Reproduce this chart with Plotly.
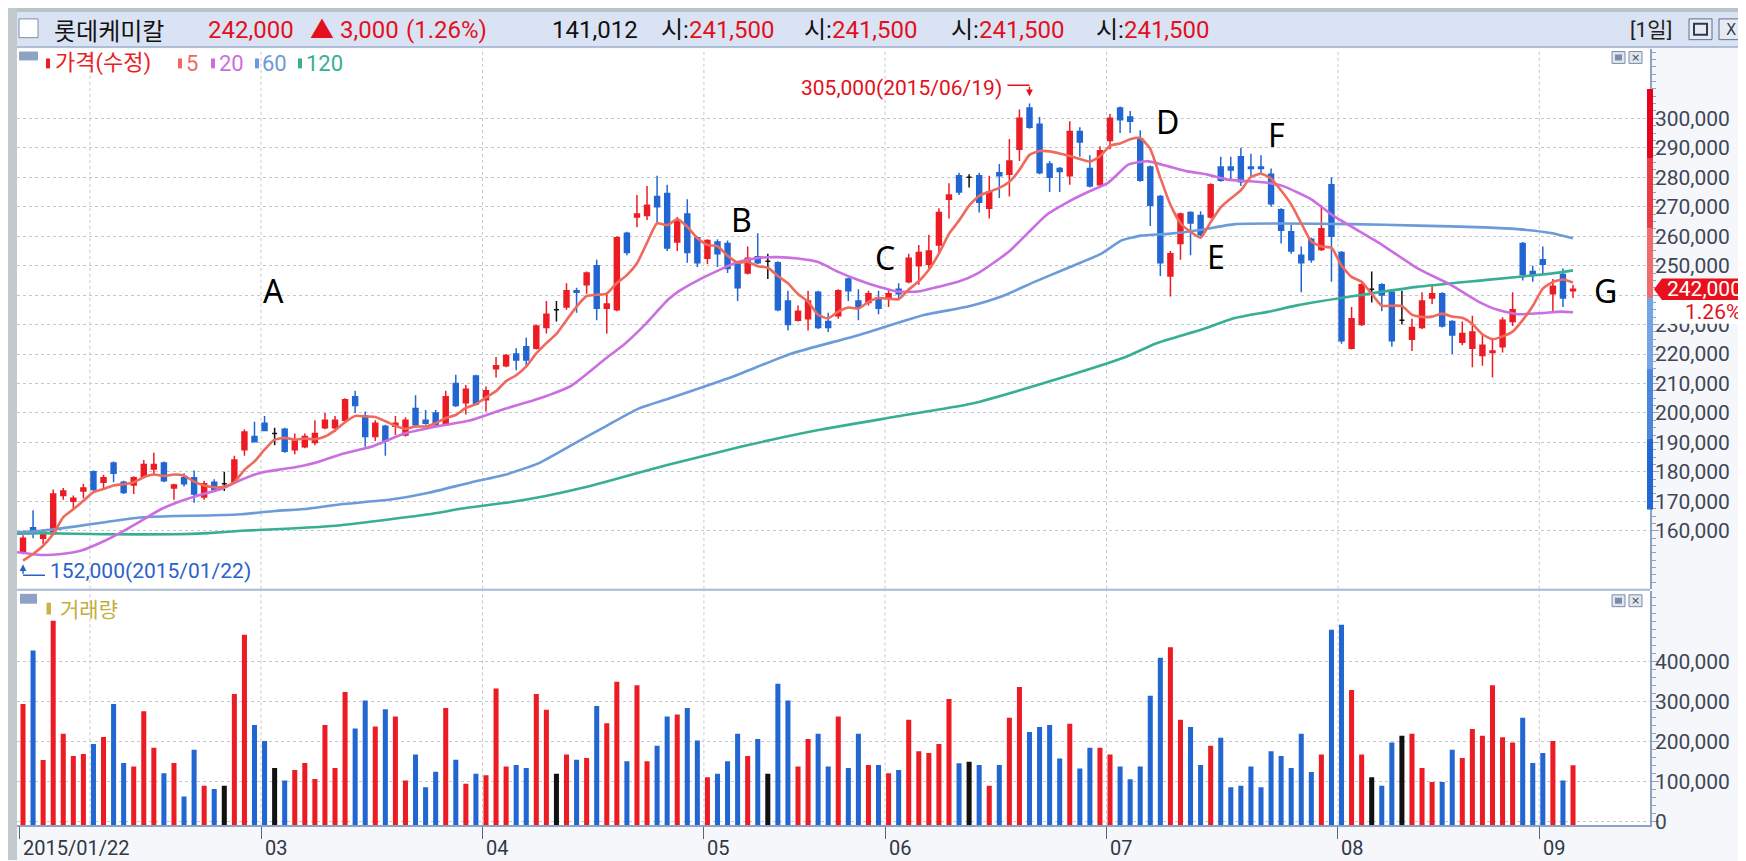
import numpy as np
import pandas as pd
import plotly.graph_objects as go

W, H = 1746, 861

# ---------------- data ----------------
holidays = ["2015-02-18", "2015-02-19", "2015-02-20", "2015-05-01",
            "2015-05-05", "2015-05-25", "2015-08-14"]
dates = [d for d in pd.bdate_range("2015-01-22", "2015-09-04")
         if d.strftime("%Y-%m-%d") not in holidays]

opens = [
    153000, 161000, 157500, 159000, 172000, 170000, 173500, 180000, 176500, 183000,
    176500, 175500, 178500, 181000, 183000, 174500, 178000, 178000, 171500, 176500,
    176000, 176500, 187500, 192000, 196500, 193000, 194500, 187500, 188500, 190000,
    195000, 195000, 197500, 205500, 199000, 192000, 195500, 195500, 192500, 201500,
    197500, 200000, 196000, 210000, 203500, 212500, 204500, 215000, 216000, 220000,
    222500, 222000, 229000, 235000, 236000, 241500, 243500, 250000, 235500, 235000,
    261000, 266500, 267000, 273500, 274500, 258000, 267500, 259500, 252500, 258000,
    257500, 251000, 247500, 253000, 251500, 251000, 238000, 231500, 232000, 241000,
    231000, 233000, 245500, 238000, 237500, 239000, 239000, 242000, 244500, 250000,
    250500, 257000, 272500, 280500, 280000, 280500, 269500, 281500, 281000, 289500,
    303500, 298000, 284500, 283000, 280500, 295500, 283000, 277500, 292500, 303500,
    300500, 293000, 283500, 273500, 246500, 257500, 268000, 267000, 266500, 283500,
    283500, 287000, 283500, 283500, 281000, 269000, 261500, 253500, 259000, 255500,
    277500, 254500, 222000, 230000, 242000, 243500, 241000, 231500, 225000, 229000,
    239000, 240500, 231000, 224000, 222000, 219500, 220500, 222500, 231000, 257500,
    248000, 252000, 240500, 247000, 241500]
highs = [
    158500, 167000, 160500, 174000, 174500, 172000, 176000, 180500, 179000, 183500,
    177000, 178500, 184000, 186500, 183500, 176000, 179500, 180500, 177000, 177500,
    180000, 185500, 194500, 197000, 199000, 195000, 195000, 193000, 193000, 197500,
    200000, 199000, 205000, 207500, 200500, 197500, 196000, 199000, 198500, 206000,
    201000, 201000, 207500, 213000, 209500, 213000, 209000, 219000, 220000, 222000,
    225500, 230000, 238000, 238000, 244000, 242500, 248000, 252000, 241000, 260000,
    261500, 274000, 277000, 280500, 277500, 266500, 272500, 260000, 259000, 259000,
    258500, 251500, 256500, 261000, 254000, 251500, 241500, 236500, 241500, 241500,
    234000, 242000, 246000, 242000, 241500, 241500, 242000, 244000, 254000, 257000,
    260500, 269500, 278000, 281500, 281000, 281500, 280500, 284500, 293000, 303000,
    305000, 300500, 285500, 283500, 299000, 297000, 287500, 290500, 301500, 304000,
    302500, 296000, 284000, 274000, 255000, 268000, 268500, 268500, 278000, 287000,
    287000, 290000, 288000, 287500, 283000, 269500, 264000, 256500, 259500, 270500,
    280000, 255000, 236000, 244000, 248000, 244000, 241500, 241500, 232000, 241000,
    243000, 241000, 231500, 231000, 233000, 226500, 225500, 232500, 241000, 258000,
    250000, 256500, 245500, 249000, 243500]
lows = [
    152000, 157500, 155500, 158500, 170500, 167000, 171000, 173500, 174500, 176500,
    172500, 172500, 178000, 179000, 176500, 170500, 175000, 169500, 170500, 173500,
    173500, 176000, 185500, 190000, 193800, 189000, 186500, 186000, 188000, 189000,
    194500, 193500, 197000, 200000, 188500, 190500, 185500, 192500, 192000, 195500,
    196000, 195500, 196000, 202000, 199500, 202500, 200500, 212000, 215500, 214500,
    215500, 221500, 227000, 231000, 235000, 234000, 240500, 231500, 227000, 234500,
    253500, 263000, 265500, 264500, 255000, 255000, 251000, 249500, 250500, 249500,
    247500, 238000, 247000, 250500, 245500, 234500, 228000, 231000, 228000, 228500,
    227500, 232000, 238000, 231500, 236500, 233500, 236000, 238500, 244000, 243500,
    248500, 254000, 266000, 274000, 276500, 268000, 266000, 273000, 273500, 285500,
    296500, 281000, 275000, 275000, 277500, 287000, 276500, 277000, 289500, 295000,
    295000, 278500, 263500, 246500, 239500, 252000, 253500, 260000, 266000, 278500,
    279000, 277000, 280000, 281000, 270000, 257500, 254000, 241000, 251000, 255000,
    244500, 223500, 221500, 229500, 237500, 234500, 222500, 230000, 221000, 228500,
    237000, 229000, 220000, 223000, 215500, 216000, 212000, 220500, 229500, 245000,
    244500, 247000, 234500, 236000, 239000]
closes = [
    157500, 160000, 159500, 172500, 173500, 171000, 174500, 174000, 178000, 179500,
    173000, 178000, 182500, 182500, 177000, 175500, 176000, 172500, 176000, 174000,
    176000, 184000, 193500, 190200, 194000, 193000, 187000, 190500, 192000, 193000,
    197500, 197500, 204500, 202500, 192000, 196500, 190500, 196500, 197500, 196000,
    196500, 196000, 205500, 202500, 208000, 203000, 207500, 216000, 219500, 218000,
    218000, 229500, 233500, 235000, 241500, 241000, 247500, 235500, 237000, 259500,
    254500, 267500, 270500, 270000, 256000, 265000, 254500, 251000, 258500, 254000,
    249000, 242500, 252500, 251000, 251500, 235000, 230000, 234500, 238000, 229000,
    229000, 241500, 241500, 236000, 240500, 235500, 240500, 240500, 252500, 254500,
    255000, 268000, 274000, 275000, 280000, 271500, 275000, 280500, 285500, 300000,
    297000, 281500, 280000, 282000, 295500, 292000, 277000, 289000, 300000, 299500,
    299000, 279000, 270500, 251000, 254000, 267500, 264500, 260500, 277500, 279000,
    282500, 278500, 283000, 283000, 271000, 262000, 255000, 251000, 252000, 262500,
    260000, 224500, 232000, 243500, 242000, 240000, 224500, 231500, 229000, 238000,
    240500, 229500, 226500, 227000, 227500, 223000, 221000, 231500, 235000, 247000,
    247000, 250500, 243000, 239000, 242000]
volumes = [
    294000, 428000, 154000, 502000, 220000, 164000, 169000, 194000, 212000, 294000,
    147000, 138000, 276000, 185000, 121000, 147000, 63000, 180000, 90000, 82000,
    90000, 319000, 467000, 242000, 202000, 134000, 103000, 129000, 147000, 107000,
    242000, 134000, 324000, 233000, 303000, 238000, 281000, 263000, 103000, 168000,
    86000, 125000, 284000, 155000, 95000, 120000, 116000, 333000, 138000, 142000,
    134000, 319000, 280000, 120000, 168000, 155000, 159000, 289000, 246000, 350000,
    151000, 341000, 151000, 190000, 263000, 268000, 284000, 203000, 111000, 120000,
    151000, 220000, 164000, 207000, 120000, 345000, 303000, 138000, 207000, 220000,
    138000, 263000, 134000, 220000, 142000, 142000, 121000, 129000, 255000, 176000,
    172000, 194000, 307000, 146000, 150000, 142000, 90000, 142000, 260000, 337000,
    224000, 237000, 242000, 158000, 245000, 133000, 185000, 185000, 168000, 138000,
    106000, 138000, 315000, 410000, 436000, 255000, 237000, 142000, 190000, 210000,
    86000, 90000, 138000, 86000, 176000, 164000, 134000, 220000, 124000, 168000,
    480000, 492000, 329000, 168000, 111000, 90000, 198000, 215000, 220000, 134000,
    99000, 99000, 180000, 159000, 232000, 215000, 341000, 211000, 198000, 260000,
    147000, 172000, 202000, 103000, 141012]

# 5-day line: first four points (they use closes before the window)
ma5_head = [149900, 152100, 154900, 158900]
# 20 / 60 / 120 day lines at these positions (trading-day index)
ma20_x = [-0.6, 1.8, 3.8, 5.8, 7.8, 9.7, 11.7, 13.7, 15.7, 17.7, 19.7, 21.7, 23.7, 25.7,
          27.7, 29.7, 31.6, 34.6, 37.9, 41.2, 44.5, 47.9, 51.2, 54.5, 57.8, 59.8, 61.8,
          64.1, 65.1, 67.1, 69.1, 71.0, 73.0, 75.0, 77.0, 79.0, 81.0, 83.0, 85.0, 86.9,
          88.9, 90.9, 92.9, 94.9, 97.9, 99.9, 101.8, 103.8, 105.8, 107.8, 109.8, 110.8,
          111.8, 113.8, 115.7, 117.7, 119.7, 121.7, 123.7, 125.2, 128.0, 130.2, 134.6,
          138.6, 141.9, 144.6, 146.5, 148.5, 150.9, 152.8, 154.0]
ma20_y = [152700, 151800, 152100, 153300, 156100, 159400, 163300, 167300, 170100, 172300,
          174200, 177300, 179800, 180900, 182000, 183800, 186000, 188500, 193000, 195500,
          197500, 201400, 204800, 209300, 218200, 223500, 230000, 238500, 241200, 245100,
          248400, 251200, 252600, 252900, 252400, 251200, 247900, 245100, 242800, 241200,
          241200, 242800, 244500, 247500, 254600, 261300, 267500, 271600, 275000, 278100,
          284300, 285100, 285400, 283700, 282000, 280900, 279200, 278700, 278100, 277000,
          272500, 266900, 258000, 249000, 243400, 237800, 235000, 233500, 233900, 234400,
          234200]
ma60_x = [-0.6, 1.8, 5.1, 8.3, 11.6, 15.1, 18.4, 21.7, 25.0, 28.3, 31.6, 36.5, 40.3, 44.5,
          47.9, 51.2, 54.5, 57.8, 61.1, 64.1, 70.5, 76.3, 83.0, 89.6, 93.9, 97.2, 100.5,
          103.8, 107.1, 109.1, 111.1, 113.8, 117.1, 120.4, 125.2, 131.9, 138.6, 145.2,
          148.5, 151.8, 154.0]
ma60_y = [159500, 160000, 161400, 163000, 164500, 165000, 165200, 165600, 166700, 167500,
          169000, 170600, 172900, 176400, 179000, 182900, 189100, 195300, 201400, 204800,
          212300, 220100, 226400, 233300, 236100, 239500, 244500, 249200, 254000, 258500,
          260200, 260800, 262200, 264100, 264300, 264100, 263600, 263000, 262400, 261100,
          259300]
ma120_x = [-0.6, 1.8, 8.3, 15.1, 18.4, 21.7, 25.0, 28.3, 31.6, 36.5, 40.3, 44.1, 48.0, 51.8,
           55.5, 58.1, 64.1, 71.3, 78.9, 86.5, 94.2, 101.7, 109.4, 112.5, 117.1, 120.4,
           123.8, 126.7, 131.9, 138.5, 145.2, 151.8, 154.0]
ma120_y = [159000, 159200, 158800, 158800, 159200, 160000, 160500, 161100, 161900, 163900,
           165600, 167800, 169500, 171700, 174500, 176800, 182400, 188500, 194100, 198600,
           203100, 210400, 218800, 223500, 228300, 232200, 234400, 236600, 239500, 242800,
           245100, 247300, 248400]

price_ticks = list(range(160000, 300001, 10000))
hidden_price_ticks = [240000]          # covered by the current-price tag in the reference
volume_ticks = [0, 100000, 200000, 300000, 400000]
range_band = [310000, 286500, 262600, 239000, 214900, 191300, 167200]
range_colors = ["#e8001c", "#ea3b40", "#f06c6c", "#76a3e2", "#4a86dc", "#2166d2"]
marker_text = ["A", "B", "C", "D", "E", "F", "G"]
marker_x = [24.9, 71.4, 85.6, 113.7, 118.5, 124.5, 157.2]
marker_y = [241700, 265600, 252600, 298800, 253100, 294600, 241700]

# ---------------- styling ----------------
RED = "#ec1c24"
BLUE = "#2266d2"
BLACK = "#111111"
TXT_RED = "#e3101c"
LOW_BLUE = "#2a62cc"
MA_COLORS = {"5": "#ef6a5c", "20": "#cb6fe0", "60": "#6b9bd8", "120": "#38ae92"}
GRID = "#c3c8d1"
AXIS = "#8ea2c4"
TICK_TXT = "#3e4656"
PANEL_BG = "#f5f7fa"
NUM_FONT = "Roboto, 'Noto Sans CJK KR', sans-serif"
KR_FONT = "'Noto Sans CJK KR', Roboto, sans-serif"

# pixel frame of the panels
X0, X1 = 9, 1642
PT, PB = 41, 587
VT, VB = 589, 826
X_ORIGIN, X_STEP = 15.0, 10.065          # pixel of index 0, pixels per trading day
P_REF_Y, P_REF, P_PX = 528.3, 160000, 29.77 / 10000
V_ZERO_Y, V_PX = 822.3, 40.43 / 100000

x_lo = (X0 - X_ORIGIN) / X_STEP
x_hi = (X1 - X_ORIGIN) / X_STEP
p_top = P_REF + (P_REF_Y - PT) / P_PX
p_bot = P_REF + (P_REF_Y - PB) / P_PX
v_top = (V_ZERO_Y - VT) / V_PX
v_bot = (V_ZERO_Y - VB) / V_PX


def fx(px):
    return px / W


def fy(py):
    return 1 - py / H


def y_of(p):
    return P_REF_Y - (p - P_REF) * P_PX


def p_at(py):
    return P_REF + (P_REF_Y - py) / P_PX


def dxp(px):
    return px / X_STEP


n = len(dates)
idx = list(range(n))

fig = go.Figure()

# candles
groups = {
    "up": ([i for i in idx if closes[i] > opens[i]], RED),
    "down": ([i for i in idx if closes[i] < opens[i]], BLUE),
    "flat": ([i for i in idx if closes[i] == opens[i]], BLACK),
}
for name, (sel, c) in groups.items():
    fig.add_trace(go.Candlestick(
        x=sel,
        open=[opens[i] for i in sel], high=[highs[i] for i in sel],
        low=[lows[i] for i in sel], close=[closes[i] for i in sel],
        increasing=dict(line=dict(color=c, width=1.5), fillcolor=c),
        decreasing=dict(line=dict(color=c, width=1.5), fillcolor=c),
        whiskerwidth=0, xaxis="x", yaxis="y", showlegend=False, hoverinfo="skip", name=name))

# moving averages
ma5 = pd.Series(closes, dtype=float).rolling(5).mean().tolist()
ma5[:4] = ma5_head
for xs, ys, key in [(ma120_x, ma120_y, "120"), (ma60_x, ma60_y, "60"),
                    (ma20_x, ma20_y, "20"), (idx, ma5, "5")]:
    fig.add_trace(go.Scatter(x=xs, y=ys, mode="lines",
                             line=dict(color=MA_COLORS[key], width=2.6, shape="spline", smoothing=0.5),
                             xaxis="x", yaxis="y", showlegend=False, hoverinfo="skip"))

# volume
vcol = [RED if closes[i] > opens[i] else (BLUE if closes[i] < opens[i] else BLACK) for i in idx]
fig.add_trace(go.Bar(x=idx, y=[v - v_bot for v in volumes], base=v_bot, width=0.5,
                     marker=dict(color=vcol, line=dict(width=0)),
                     xaxis="x", yaxis="y2", showlegend=False, hoverinfo="skip"))

month_first = [i for i in range(1, n) if dates[i].month != dates[i - 1].month]
tick_idx = [0] + [i for i in month_first if dates[i].month != 2]
GRID_SHIFT = 0.35

shapes = []
annotations = []


def rect_px(x0, y0, x1, y1, fill, line=None, layer="below", lw=1):
    shapes.append(dict(type="rect", xref="paper", yref="paper",
                       x0=fx(x0), x1=fx(x1), y0=fy(y1), y1=fy(y0),
                       fillcolor=fill, layer=layer,
                       line=dict(width=lw if line else 0, color=line or fill)))


def text_px(text, x, y, size=21, color="#222", family=NUM_FONT, xanchor="left", **kw):
    annotations.append(dict(text=text, x=fx(x), y=fy(y), xref="paper", yref="paper",
                            xanchor=xanchor, yanchor="middle", showarrow=False,
                            font=dict(family=family, size=size, color=color), **kw))


# frame / title bar
rect_px(0, 0, W, 40, "#dae3f3")
rect_px(0, 0, W, 4, "#b9c1c9")
shapes.append(dict(type="line", xref="paper", yref="paper", x0=0, x1=1, y0=fy(39.5), y1=fy(39.5),
                   line=dict(color="#9fb0cc", width=1.5), layer="below"))
rect_px(0, 0, X0, H, "#c2cacd")
rect_px(X0, PB, X1, VT, "#a9b9d3")
rect_px(11, 11, 30, 30, "white", "#7d8ca6")
rect_px(1681, 11, 1704, 32, "#e6ebf3", "#5e6f8c")
rect_px(1711, 11, 1735, 32, "#e6ebf3", "#5e6f8c")
rect_px(1686, 16, 1699, 27, "#e6ebf3", "#2e3a50", lw=2)
text_px("X", 1723, 22, size=15, color="#2e3a50", xanchor="center", family="DejaVu Sans")

# panel buttons + legend boxes (inside plot area)
for yb in (44, 593):
    rect_px(1604, yb, 1617, yb + 12, "#dfe6f0", "#7d8ca6", layer="above")
    rect_px(1621, yb, 1634, yb + 12, "#dfe6f0", "#7d8ca6", layer="above")
    text_px("×", 1627.5, yb + 6, size=11, color="#3a4760", xanchor="center", family="DejaVu Sans")
    rect_px(1607, yb + 3, 1614, yb + 9, "#7d8ca6", layer="above")
rect_px(11, 44, 30, 53, "#8da2c4", layer="above")
rect_px(12, 592, 29, 602, "#8da2c4", layer="above")

# vertical month grid lines in both panels
for m in month_first:
    for yref, lo, hi in (("y", p_bot, p_top), ("y2", v_bot, v_top)):
        shapes.append(dict(type="line", xref="x", yref=yref, x0=m - GRID_SHIFT, x1=m - GRID_SHIFT,
                           y0=lo, y1=hi, line=dict(color=GRID, width=1, dash="dot"), layer="below"))

# price range band on the axis
for k, c in enumerate(range_colors):
    shapes.append(dict(type="rect", xref="paper", yref="y", x0=fx(1639), x1=fx(1645),
                       y0=range_band[k + 1], y1=range_band[k], fillcolor=c,
                       line=dict(width=0), layer="above"))

# current price tag
last = closes[-1]
prev = closes[-2]
chg = last - prev
pct = chg / prev * 100
h_tag = 10.8 / P_PX
shapes.append(dict(type="path", xref="paper", yref="y", layer="above",
                   path=(f"M {fx(1646)},{last} L {fx(1654)},{last + h_tag} L {fx(1737)},{last + h_tag} "
                         f"L {fx(1737)},{last - h_tag} L {fx(1654)},{last - h_tag} Z"),
                   fillcolor="#e8101c", line=dict(width=0)))
shapes.append(dict(type="rect", xref="paper", yref="y", layer="above",
                   x0=fx(1648), x1=fx(1741), y0=p_at(y_of(last) + 35), y1=p_at(y_of(last) + 11),
                   fillcolor="white", line=dict(width=0)))
annotations.append(dict(text=f"{last:,}", x=fx(1696), y=last, xref="paper", yref="y",
                        xanchor="center", yanchor="middle", showarrow=False,
                        font=dict(family=NUM_FONT, size=21, color="white")))
annotations.append(dict(text=f"{pct:.2f}%", x=fx(1735), y=p_at(y_of(last) + 23.5), xref="paper",
                        yref="y", xanchor="right", yanchor="middle", showarrow=False,
                        font=dict(family=NUM_FONT, size=21, color=TXT_RED)))

# title texts
text_px("롯데케미칼", 44, 22, size=24, color="#111", family=KR_FONT)
text_px(f"{last:,}", 198, 22, size=24, color=TXT_RED)
text_px(f"▲ {chg:,}", 300, 22, size=24, color=TXT_RED)
text_px(f"({pct:.2f}%)", 396, 22, size=24, color=TXT_RED)
text_px(f"{volumes[-1]:,}", 542, 22, size=24, color="#111")
for xp in (651, 794, 941, 1086):
    text_px(f"시:<span style='color:{TXT_RED}'>{opens[-1]:,}</span>", xp, 22, size=24,
            color="#111", family=NUM_FONT)
text_px("[1일]", 1620, 22, size=21, color="#222", family=NUM_FONT)

# legends
leg = [("가격(수정)", RED, 38, 45), ("5", MA_COLORS["5"], 170, 176), ("20", MA_COLORS["20"], 203, 209),
       ("60", MA_COLORS["60"], 247, 252), ("120", MA_COLORS["120"], 290, 296)]
for txt, c, bx, tx in leg:
    rect_px(bx, 51, bx + 4, 61, c, layer="above")
    text_px(txt, tx, 56, size=22, color=c, family=NUM_FONT)
rect_px(38.5, 601, 43, 613, "#c8b444", layer="above")
text_px("거래량", 50, 606, size=21, color="#c2ae3c", family=KR_FONT)

# month labels
for i in tick_idx:
    lab = dates[i].strftime("%Y/%m/%d") if i == 0 else dates[i].strftime("%m")
    annotations.append(dict(text=lab, x=i - GRID_SHIFT + dxp(1.5), y=fy(849), xref="x", yref="paper",
                            xanchor="left", yanchor="middle", showarrow=False,
                            font=dict(family=NUM_FONT, size=20, color="#2f3746")))

# pattern letters
for t, xx, yy in zip(marker_text, marker_x, marker_y):
    annotations.append(dict(text=t, x=xx, y=yy, xref="x", yref="y", xanchor="center",
                            yanchor="middle", showarrow=False,
                            font=dict(family="'Noto Sans', 'Open Sans', sans-serif", size=32, color="black")))

# high / low markers
imax = int(np.argmax(highs))
imin = int(np.argmin(lows))
hmax, lmin = highs[imax], lows[imin]
yh = y_of(hmax)
annotations.append(dict(text=f"{hmax:,}({dates[imax]:%Y/%m/%d})", x=imax - dxp(26), y=p_at(yh - 15.6),
                        xref="x", yref="y", xanchor="right", yanchor="middle", showarrow=False,
                        font=dict(family=NUM_FONT, size=21, color=TXT_RED)))
shapes.append(dict(type="line", xref="x", yref="y", x0=imax - dxp(22), x1=imax,
                   y0=p_at(yh - 18.5), y1=p_at(yh - 18.5), line=dict(color=TXT_RED, width=1.5), layer="above"))
annotations.append(dict(text="", x=imax, y=p_at(yh - 7.5), xref="x", yref="y", showarrow=True,
                        ax=0, ay=-11, arrowhead=2, arrowsize=0.9, arrowwidth=1.5, arrowcolor=TXT_RED))
yl = y_of(lmin)
annotations.append(dict(text=f"{lmin:,}({dates[imin]:%Y/%m/%d})", x=imin + dxp(25), y=p_at(yl + 16.9),
                        xref="x", yref="y", xanchor="left", yanchor="middle", showarrow=False,
                        font=dict(family=NUM_FONT, size=21, color=LOW_BLUE)))
shapes.append(dict(type="line", xref="x", yref="y", x0=imin, x1=imin + dxp(22),
                   y0=p_at(yl + 21.2), y1=p_at(yl + 21.2), line=dict(color=LOW_BLUE, width=1.5), layer="above"))
annotations.append(dict(text="", x=imin, y=p_at(yl + 9.9), xref="x", yref="y", showarrow=True,
                        ax=0, ay=11, arrowhead=2, arrowsize=0.9, arrowwidth=1.5, arrowcolor=LOW_BLUE))

price_text = ["" if v in hidden_price_ticks else f"{v:,}" for v in price_ticks]
tickfont = dict(family=NUM_FONT, size=21, color=TICK_TXT)
fig.update_layout(
    width=W, height=H, autosize=False,
    margin=dict(l=0, r=0, t=0, b=0, pad=0),
    paper_bgcolor=PANEL_BG, plot_bgcolor="white",
    showlegend=False, boxmode="overlay", hovermode=False,
    font=dict(family=NUM_FONT, size=21, color=TICK_TXT),
    xaxis=dict(domain=[fx(X0), fx(X1)], range=[x_lo, x_hi], anchor="y2",
               showgrid=False, zeroline=False, showline=True, linecolor=AXIS, linewidth=1.5,
               ticks="outside", tickvals=[i - GRID_SHIFT for i in tick_idx], ticklen=12,
               tickwidth=1.2, tickcolor="#56657d", showticklabels=False,
               rangeslider=dict(visible=False), fixedrange=True),
    yaxis=dict(domain=[fy(PB), fy(PT)], range=[p_bot, p_top], anchor="x", side="right",
               tickmode="array", tickvals=price_ticks, ticktext=price_text,
               ticks="outside", ticklen=7, tickwidth=1.2, tickcolor=AXIS, ticklabelstandoff=-8,
               showgrid=True, gridcolor=GRID, griddash="dot", gridwidth=1,
               zeroline=False, showline=True, linecolor=AXIS, linewidth=1.5,
               tickfont=tickfont, fixedrange=True,
               minor=dict(tickmode="linear", tick0=0, dtick=2500, ticks="outside", ticklen=4,
                          tickcolor=AXIS, showgrid=False)),
    yaxis2=dict(domain=[fy(VB), fy(VT)], range=[v_bot, v_top], anchor="x", side="right",
                tickmode="array", tickvals=volume_ticks, tickformat=",d",
                ticks="outside", ticklen=7, tickwidth=1.2, tickcolor=AXIS, ticklabelstandoff=-8,
                showgrid=True, gridcolor=GRID, griddash="dot", gridwidth=1,
                zeroline=False, showline=True, linecolor=AXIS, linewidth=1.5,
                tickfont=tickfont, fixedrange=True,
                minor=dict(tickmode="linear", tick0=0, dtick=20000, ticks="outside", ticklen=4,
                           tickcolor=AXIS, showgrid=False)),
    shapes=shapes, annotations=annotations,
)

fig.write_html("out.html", config={"displayModeBar": False})
